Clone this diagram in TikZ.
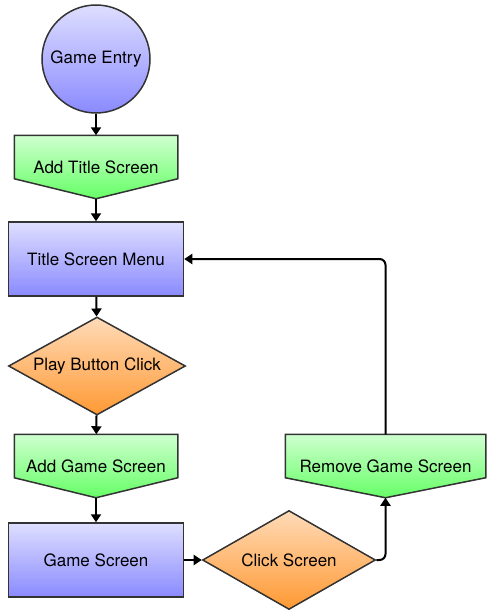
\documentclass[tikz,border=0pt]{standalone}
\usepackage{fontspec}
\setmainfont{TeX Gyre Heros}
\usetikzlibrary{shapes.geometric,arrows.meta,backgrounds}
\definecolor{edgegray}{HTML}{333333}
\definecolor{blueTop}{HTML}{DEDEFF}
\definecolor{blueBot}{HTML}{8A8AFF}
\definecolor{greenTop}{HTML}{CFFFCF}
\definecolor{greenBot}{HTML}{66FF66}
\definecolor{orangeTop}{HTML}{FFDBB8}
\definecolor{orangeBot}{HTML}{FF9933}
\begin{document}
\begin{tikzpicture}[x=1pt,y=-1pt,>={Triangle[width=10pt,length=8pt]},
    every node/.style={font=\fontsize{17}{20}\selectfont,line width=1.5pt,inner sep=0pt},
    startnode/.style={circle,draw=edgegray,top color=blueTop,bottom color=blueBot,minimum size=108pt},
    screenbox/.style={rectangle,draw=edgegray,top color=blueTop,bottom color=blueBot,minimum width=175pt,minimum height=74pt},
    actionbox/.style={rectangle,minimum height=62pt},
    actionfill/.style={draw=edgegray,line width=1.5pt,top color=greenTop,bottom color=greenBot},
    choicebox/.style={diamond,aspect=1.8,draw=edgegray,top color=orangeTop,bottom color=orangeBot},
    flow/.style={->,line width=2pt}]
    \useasboundingbox (0,0) rectangle (490,613);
    % left column
    \node[startnode] (entry) at (96,59) {Game Entry};
    \node[actionbox,minimum width=162pt] (addtitle) at (96,167) {Add Title Screen};
    \node[screenbox] (menu) at (96,259) {Title Screen Menu};
    \node[choicebox,minimum width=177pt,minimum height=98pt] (play) at (97,366) {Play Button Click};
    \node[actionbox,minimum width=162pt] (addgame) at (96,466) {Add Game Screen};
    \node[screenbox] (game) at (96,560) {Game Screen};
    % right side
    \node[choicebox,minimum width=173pt,minimum height=99pt] (click) at (289,560) {Click Screen};
    \node[actionbox,minimum width=199pt] (remove) at (385.5,466) {Remove Game Screen};
    % green shapes with pointed bottom
    \begin{scope}[on background layer]
        \foreach \n in {addtitle,addgame,remove}
            \shade[actionfill] (\n.north west) -- (\n.north east)
                -- ([yshift=20pt]\n.south east) -- (\n.south)
                -- ([yshift=20pt]\n.south west) -- cycle;
    \end{scope}
    \draw[flow] (entry) -- (addtitle);
    \draw[flow] (addtitle) -- (menu);
    \draw[flow] (menu) -- (play);
    \draw[flow] (play) -- (addgame);
    \draw[flow] (addgame) -- (game);
    \draw[flow] (game) -- (click);
    \draw[flow,rounded corners=6pt] (click.east) -| (remove.south);
    \draw[flow,rounded corners=6pt] (remove.north) |- (menu.east);
\end{tikzpicture}
\end{document}
